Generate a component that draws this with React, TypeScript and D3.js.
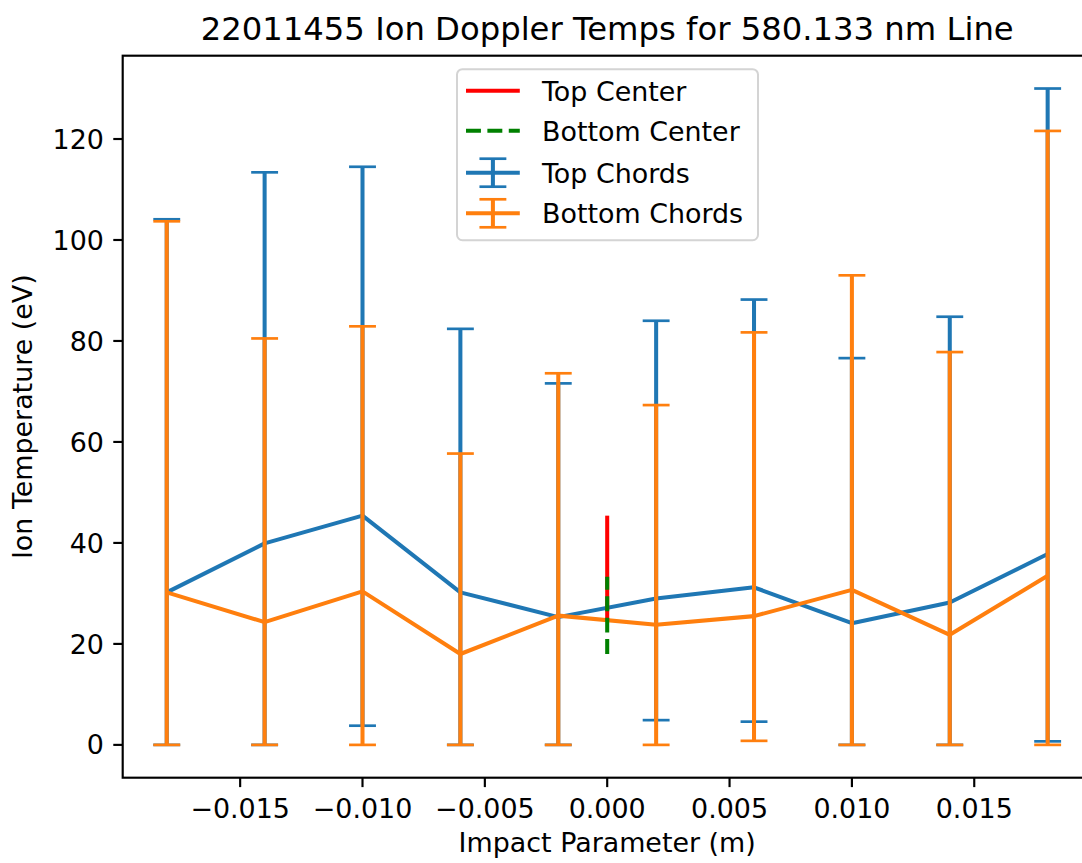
import React from 'react';
import * as d3 from 'd3';

// impact parameter of each chord (m)
const impact = [-0.018, -0.014, -0.010, -0.006, -0.002, 0.002, 0.006, 0.010, 0.014, 0.018];

// top chords: temperature with lower / upper error limits (eV)
const topTemp = [30.2, 39.9, 45.4, 30.2, 25.3, 29.0, 31.2, 24.1, 28.2, 37.8];
const topLower = [0, 0, 3.8, 0, 0, 4.9, 4.6, 0, 0, 0.7];
const topUpper = [104.1, 113.4, 114.5, 82.4, 71.6, 84.0, 88.2, 76.6, 84.8, 130.0];

// bottom chords
const bottomTemp = [30.2, 24.3, 30.4, 18.0, 25.6, 23.8, 25.5, 30.7, 21.8, 33.5];
const bottomLower = [0, 0, 0, 0, 0, 0, 0.8, 0, 0, 0];
const bottomUpper = [103.7, 80.5, 82.9, 57.7, 73.6, 67.3, 81.7, 93.0, 77.8, 121.6];

// center chord ranges (eV)
const topCenterRange = [24.6, 45.4];
const bottomCenterRange = [18.0, 33.3];

const xTicks = [-0.015, -0.010, -0.005, 0, 0.005, 0.010, 0.015];
const yTicks = [0, 20, 40, 60, 80, 100, 120];

const W = 1082;
const H = 863;
const PT = 2.69; // px per point
const FS = 10 * PT;
const FONT = "'DejaVu Sans', sans-serif";
const LW = 1.5 * PT;
const CAP = 5 * PT;

const left = 122.7;
const right = 1091.7;
const top = 55.7;
const bottom = 777.7;

const BLUE = '#1f77b4';
const ORANGE = '#ff7f0e';

// matplotlib-style 5% margins
const pad = (lo: number, hi: number): [number, number] => {
    const r = hi - lo;
    return [lo - 0.05 * r, hi + 0.05 * r];
};

const xExtent = d3.extent(impact) as [number, number];
const yMin = Math.min(d3.min(topLower)!, d3.min(bottomLower)!);
const yMax = Math.max(d3.max(topUpper)!, d3.max(bottomUpper)!);

const xScale = d3.scaleLinear().domain(pad(xExtent[0], xExtent[1])).range([left, right]);
const yScale = d3.scaleLinear().domain(pad(yMin, yMax)).range([bottom, top]);

const fmtX = d3.format('.3f');

function ErrorSeries(props: { temp: number[]; lower: number[]; upper: number[]; color: string }) {
    const { temp, lower, upper, color } = props;
    const line = d3.line<number>()
        .x((_, i) => xScale(impact[i]))
        .y(d => yScale(d));
    return (
        <g>
            <path d={line(temp) || ''} fill="none" stroke={color} strokeWidth={LW} strokeLinejoin="round" />
            {impact.map((v, i) => {
                const cx = xScale(v);
                return (
                    <g key={i}>
                        <line x1={cx} x2={cx} y1={yScale(lower[i])} y2={yScale(upper[i])} stroke={color} strokeWidth={LW} />
                        <line x1={cx - CAP} x2={cx + CAP} y1={yScale(lower[i])} y2={yScale(lower[i])} stroke={color} strokeWidth={PT} />
                        <line x1={cx - CAP} x2={cx + CAP} y1={yScale(upper[i])} y2={yScale(upper[i])} stroke={color} strokeWidth={PT} />
                    </g>
                );
            })}
        </g>
    );
}

function Legend() {
    const x0 = 457;
    const y0 = 69.2;
    const hx1 = 466;
    const hx2 = hx1 + 2 * FS;
    const tx = 542;
    const rows = [
        { label: 'Top Center', kind: 'solid', color: '#ff0000', cy: 90.7 },
        { label: 'Bottom Center', kind: 'dashed', color: '#008000', cy: 130.7 },
        { label: 'Top Chords', kind: 'err', color: BLUE, cy: 172.7 },
        { label: 'Bottom Chords', kind: 'err', color: ORANGE, cy: 213.3 },
    ];
    return (
        <g>
            <rect x={x0} y={y0} width={301} height={171} rx={5.4} fill="white" fillOpacity={0.8} stroke="#d4d4d4" strokeWidth={2} />
            {rows.map((r, i) => {
                const mx = (hx1 + hx2) / 2;
                return (
                    <g key={i}>
                        <line x1={hx1} x2={hx2} y1={r.cy} y2={r.cy} stroke={r.color} strokeWidth={LW}
                            strokeDasharray={r.kind === 'dashed' ? `${3.7 * LW} ${1.6 * LW}` : undefined} />
                        {r.kind === 'err' && (
                            <g>
                                <line x1={mx} x2={mx} y1={r.cy - 14} y2={r.cy + 14} stroke={r.color} strokeWidth={LW} />
                                <line x1={mx - CAP} x2={mx + CAP} y1={r.cy - 14} y2={r.cy - 14} stroke={r.color} strokeWidth={PT} />
                                <line x1={mx - CAP} x2={mx + CAP} y1={r.cy + 14} y2={r.cy + 14} stroke={r.color} strokeWidth={PT} />
                            </g>
                        )}
                        <text x={tx} y={r.cy + 10} fontSize={FS} fontFamily={FONT} fill="#000">{r.label}</text>
                    </g>
                );
            })}
        </g>
    );
}

export default function App() {
    const x0 = xScale(0);
    return (
        <div style={{ position: 'absolute', left: 0, top: 0 }}>
            <svg width={W} height={H} style={{ display: 'block', background: 'white' }}>
                <rect x={0} y={0} width={W} height={H} fill="white" />

                {/* error bar series */}
                <ErrorSeries temp={topTemp} lower={topLower} upper={topUpper} color={BLUE} />
                <ErrorSeries temp={bottomTemp} lower={bottomLower} upper={bottomUpper} color={ORANGE} />

                {/* center chords */}
                <line x1={x0} x2={x0} y1={yScale(topCenterRange[0])} y2={yScale(topCenterRange[1])} stroke="#ff0000" strokeWidth={LW} />
                <line x1={x0} x2={x0} y1={yScale(bottomCenterRange[0])} y2={yScale(bottomCenterRange[1])} stroke="#008000" strokeWidth={LW}
                    strokeDasharray={`${3.7 * LW} ${1.6 * LW}`} />

                {/* spines */}
                <rect x={left} y={top} width={right - left} height={bottom - top} fill="none" stroke="#000" strokeWidth={0.8 * PT} />

                {/* x axis */}
                {xTicks.map((t, i) => (
                    <g key={i} transform={`translate(${xScale(t)}, ${bottom})`}>
                        <line y2={3.5 * PT} stroke="#000" strokeWidth={0.8 * PT} />
                        <text y={40} textAnchor="middle" fontSize={FS} fontFamily={FONT} fill="#000">{fmtX(t)}</text>
                    </g>
                ))}
                <text x={(left + right) / 2} y={852} textAnchor="middle" fontSize={FS} fontFamily={FONT} fill="#000">Impact Parameter (m)</text>

                {/* y axis */}
                {yTicks.map((t, i) => (
                    <g key={i} transform={`translate(${left}, ${yScale(t)})`}>
                        <line x2={-3.5 * PT} stroke="#000" strokeWidth={0.8 * PT} />
                        <text x={-7 * PT} y={9.6} textAnchor="end" fontSize={FS} fontFamily={FONT} fill="#000">{t}</text>
                    </g>
                ))}
                <text transform={`translate(31.5, ${(top + bottom) / 2}) rotate(-90)`} textAnchor="middle" fontSize={FS} fontFamily={FONT} fill="#000">
                    Ion Temperature (eV)
                </text>

                {/* title */}
                <text x={(left + right) / 2} y={top - 6 * PT} textAnchor="middle" fontSize={12 * PT} fontFamily={FONT} fill="#000">
                    22011455 Ion Doppler Temps for 580.133 nm Line
                </text>

                <Legend />
            </svg>
        </div>
    );
}
